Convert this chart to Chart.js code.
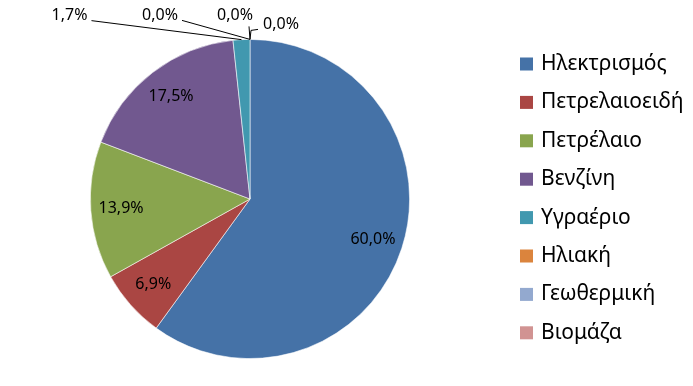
<!DOCTYPE html>
<html>
<head>
<meta charset="utf-8">
<script src="https://cdn.jsdelivr.net/npm/chart.js@4/dist/chart.umd.min.js"></script>
<style>
  html, body { margin: 0; padding: 0; background: #fff; }
  #wrap { width: 693px; height: 386px; position: relative; }
</style>
</head>
<body>
<div id="wrap"><canvas id="c"></canvas></div>
<script>
// Κατηγορίες και μερίδια (%)
const categories = ['Ηλεκτρισμός', 'Πετρελαιοειδή', 'Πετρέλαιο', 'Βενζίνη', 'Υγραέριο', 'Ηλιακή', 'Γεωθερμική', 'Βιομάζα'];
const shares = [60.0, 6.9, 13.9, 17.5, 1.7, 0.0, 0.0, 0.0];
const sliceColors = ['#4572A7', '#AA4643', '#89A54E', '#71588F', '#4198AF', '#DB843D', '#93A9CF', '#D19392'];

const fmt = v => v.toFixed(1).replace('.', ',') + '%';
const FONT = '"Noto Sans", "DejaVu Sans", sans-serif';

// εξωτερικές ετικέτες: μετατόπιση κειμένου και γραμμής από το σημείο της περιφέρειας
const outside = {
  4: { text: [-172, -24], path: [[-150, -19]] },
  5: { text: [-90, -24], path: [[-68, -19]] },
  6: { text: [-15, -24], path: [[-1, -13]] },
  7: { text: [31, -15], path: [[1, -9], [8, -10]] }
};

const labelsPlugin = {
  id: 'sliceLabels',
  afterDatasetsDraw(chart) {
    const ctx = chart.ctx;
    const meta = chart.getDatasetMeta(0);
    ctx.save();
    ctx.font = '16px ' + FONT;
    ctx.fillStyle = '#000';
    ctx.textBaseline = 'middle';
    ctx.textAlign = 'center';
    meta.data.forEach((arc, i) => {
      const p = arc.getProps(['x', 'y', 'startAngle', 'endAngle', 'outerRadius'], true);
      const mid = (p.startAngle + p.endAngle) / 2;
      const txt = fmt(shares[i]);
      if (!outside[i]) {
        const rr = p.outerRadius * 0.81;
        ctx.fillText(txt, p.x + Math.cos(mid) * rr, p.y + Math.sin(mid) * rr);
        return;
      }
      const ex = p.x + Math.cos(mid) * p.outerRadius;
      const ey = p.y + Math.sin(mid) * p.outerRadius;
      const o = outside[i];
      ctx.strokeStyle = '#000';
      ctx.lineWidth = 1;
      ctx.beginPath();
      ctx.moveTo(ex, ey);
      o.path.forEach(pt => ctx.lineTo(ex + pt[0], ey + pt[1]));
      ctx.stroke();
      ctx.fillText(txt, ex + o.text[0], ey + o.text[1]);
    });
    ctx.restore();
  }
};

const legendPlugin = {
  id: 'sideLegend',
  afterDraw(chart) {
    const ctx = chart.ctx;
    ctx.save();
    ctx.font = '21px ' + FONT;
    ctx.textBaseline = 'middle';
    ctx.textAlign = 'left';
    categories.forEach((name, i) => {
      const y = 64 + i * 38.4;
      ctx.fillStyle = sliceColors[i];
      ctx.fillRect(520, y - 6.5, 13, 13);
      ctx.fillStyle = '#000';
      ctx.fillText(name, 541, y);
    });
    ctx.restore();
  }
};

new Chart(document.getElementById('c'), {
  type: 'pie',
  data: {
    labels: categories,
    datasets: [{
      data: shares,
      backgroundColor: sliceColors,
      borderColor: 'rgba(255,255,255,0.7)',
      borderWidth: 0.8
    }]
  },
  options: {
    responsive: true,
    maintainAspectRatio: false,
    animation: false,
    layout: { padding: { left: 90, right: 283, top: 39, bottom: 27 } },
    plugins: {
      legend: { display: false },
      tooltip: { enabled: false }
    }
  },
  plugins: [labelsPlugin, legendPlugin]
});
</script>
</body>
</html>
